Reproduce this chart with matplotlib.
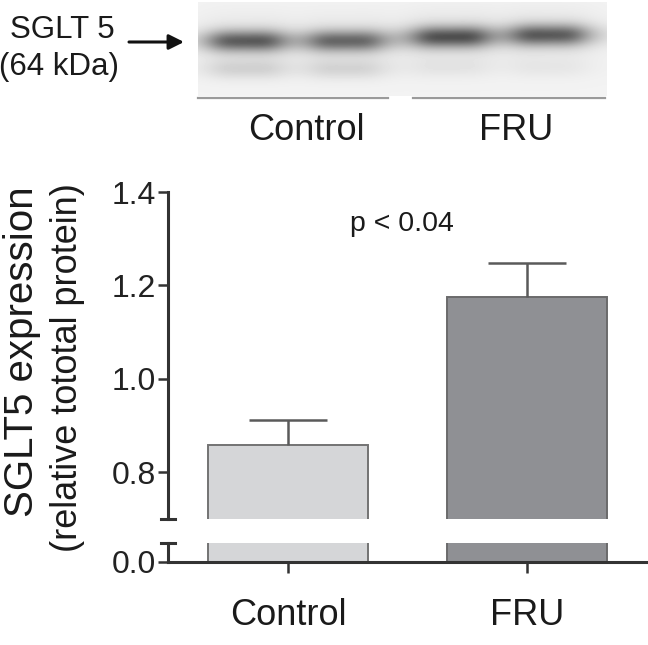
import numpy as np
import matplotlib.pyplot as plt

plt.rcParams['font.family'] = ['Liberation Sans', 'DejaVu Sans']

# bar chart data
groups = ['Control', 'FRU']
means = [0.858, 1.175]
sems = [0.053, 0.073]
p_text = 'p < 0.04'
y_ticks = [0.8, 1.0, 1.2, 1.4]

# western blot lanes (pixel layout of the blot picture)
lane_x = [246, 346, 451, 549]
band_y = [41, 41, 37, 35]
band_strength = [0.52, 0.47, 0.55, 0.52]
lower_band_y = [69, 69, 68, 68]
lower_band_strength = [0.11, 0.10, 0.04, 0.035]
blot_labels = ['Control', 'FRU']

fig = plt.figure(figsize=(6.48, 6.45), dpi=100)

# --- blot panel, drawn in pixel coordinates ---
ax0 = fig.add_axes([0, 0, 1, 1])
ax0.axis('off')

left, right, top, bottom = 198, 607, 2, 96
xx = np.arange(left, right) + 0.5
yy = np.arange(top, bottom) + 0.5
X, Y = np.meshgrid(xx, yy)
img = np.full(X.shape, 0.95)
for cx, cy, s, ly, ls in zip(lane_x, band_y, band_strength, lower_band_y, lower_band_strength):
    flat = 1 / (1 + ((X - cx) / 38) ** 4)
    wide = 1 / (1 + ((X - cx) / 46) ** 4)
    img -= s * np.exp(-0.5 * ((Y - cy) / 7.5) ** 2) * flat
    img -= 0.12 * s * np.exp(-0.5 * ((Y - cy) / 18) ** 2) * wide
    img -= ls * np.exp(-0.5 * ((Y - ly) / 7) ** 2) * flat
ax0.imshow(img, cmap='gray', vmin=0, vmax=1, extent=(left, right, bottom, top),
           aspect='auto', interpolation='bicubic')
ax0.set_xlim(0, 648)
ax0.set_ylim(645, 0)

ax0.plot([198, 388], [98, 98], color='#9a9a9a', lw=1.6)
ax0.plot([413, 605], [98, 98], color='#9a9a9a', lw=1.6)
ax0.text(306, 131, blot_labels[0], ha='center', va='center', fontsize=26, color='#1a1a1a')
ax0.text(516, 131, blot_labels[1], ha='center', va='center', fontsize=26, color='#1a1a1a')
ax0.text(62, 30, 'SGLT 5', ha='center', va='center', fontsize=22.5, color='#1a1a1a')
ax0.text(59, 67, '(64 kDa)', ha='center', va='center', fontsize=22.5, color='#1a1a1a')
ax0.annotate('', xy=(184, 42), xytext=(129, 42),
             arrowprops=dict(arrowstyle='-|>,head_length=0.9,head_width=0.45',
                             color='#111111', lw=2.2, shrinkA=0, shrinkB=0))

# --- broken-axis bar chart ---
ax_top = fig.add_axes([0.2593, 0.1958, 0.7407, 0.5065])
ax_bot = fig.add_axes([0.2593, 0.1287, 0.7407, 0.0295])
x = np.arange(len(groups))
fills = ['#d5d6d8', '#8f9094']
edges = ['#737373', '#6a6a6b']
spine_c = '#333333'

for ax in (ax_top, ax_bot):
    ax.set_facecolor('none')
    ax.bar(x, means, width=0.669, color=fills, edgecolor=edges, linewidth=1.4)
    ax.set_xlim(-0.502, 1.506)
    for s in ['top', 'right']:
        ax.spines[s].set_visible(False)
    ax.spines['left'].set_color(spine_c)
    ax.spines['left'].set_linewidth(2.2)
    ax.spines['bottom'].set_color(spine_c)
    ax.spines['bottom'].set_linewidth(2.2)
    ax.tick_params(axis='y', length=7, width=1.8, color=spine_c, labelsize=23,
                   labelcolor='#222222', pad=2)

ax_top.set_ylim(0.7, 1.4)
ax_top.set_yticks(y_ticks)
ax_top.set_yticklabels([f'{t:.1f}' for t in y_ticks])
ax_top.spines['bottom'].set_visible(False)
ax_top.set_xticks([])

ax_bot.set_ylim(0, 0.0407)
ax_bot.set_yticks([0.0])
ax_bot.set_yticklabels(['0.0'])
ax_bot.set_xticks(x)
ax_bot.set_xticklabels(groups)
ax_bot.tick_params(axis='x', length=8, width=1.8, color=spine_c, labelsize=26,
                   labelcolor='#1a1a1a', pad=18)

# error bars (upper only)
tops = [m + s for m, s in zip(means, sems)]
ax_top.vlines(x, means, tops, color='#5a5a5a', lw=1.8)
ax_top.hlines(tops, x - 0.165, x + 0.165, color='#5a5a5a', lw=1.8)

# break caps on the y axis
d = 0.0146
ax_top.plot([-d, d], [0, 0], transform=ax_top.transAxes, color=spine_c, lw=2.2, clip_on=False)
ax_bot.plot([-d, d], [1, 1], transform=ax_bot.transAxes, color=spine_c, lw=2.2, clip_on=False)

ax_top.text(0.477, 1.332, p_text, ha='center', va='center', fontsize=20.5, color='#1a1a1a')

fig.text(22 / 648, 1 - 352 / 645, 'SGLT5 expression', rotation=90, ha='center',
         va='center', fontsize=29, color='#1a1a1a')
fig.text(68 / 648, 1 - 368 / 645, '(relative tototal protein)', rotation=90, ha='center',
         va='center', fontsize=26, color='#1a1a1a')

fig.savefig('out.png', dpi=100)
